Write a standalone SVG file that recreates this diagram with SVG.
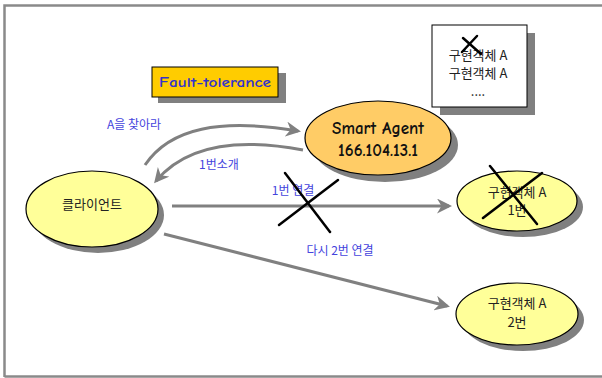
<svg xmlns="http://www.w3.org/2000/svg" width="602" height="378" viewBox="0 0 602 378">
<style>
.frame{stroke:#8a8a8a;stroke-width:2.5;fill:none}
.shadow{fill:#808080}
.node{fill:#FFFF99;stroke:#000;stroke-width:1.2}
.agent{fill:#FFCC66;stroke:#000;stroke-width:1.2}
.ktext{font-family:"Noto Sans CJK KR","DejaVu Sans",sans-serif;font-size:13px;fill:#222;text-anchor:middle}
.lbl{font-family:"Noto Sans CJK KR","DejaVu Sans",sans-serif;font-size:12px;fill:#4444DD;text-anchor:middle}
.agtext{font-family:"Comic Neue","DejaVu Sans",sans-serif;font-weight:bold;font-size:17px;fill:#111;text-anchor:middle}
.conn{stroke:#808080;stroke-width:3;fill:none;marker-end:url(#ah)}
.cross{stroke:#000;stroke-width:2.5;stroke-linecap:round}
</style>
<defs>
<marker id="ah" viewBox="0 0 10 10" refX="8" refY="5" markerWidth="5" markerHeight="5" orient="auto" markerUnits="strokeWidth">
<path d="M0,0 L10,5 L0,10 L3,5 Z" fill="#808080"/>
</marker>
</defs>
<rect width="602" height="378" fill="#fff"/>
<path class="frame" d="M4.5,377 V5.5 H602 M4.5,376.5 H602"/>

<g id="title">
<rect x="158" y="73" width="128" height="30" class="shadow"/>
<rect x="152" y="67" width="126" height="30" fill="#FFCC00" stroke="#000" stroke-width="1"/>
<text x="215" y="87" font-family="'Comic Neue','DejaVu Sans',sans-serif" font-weight="bold" font-size="14" fill="#3333CC" text-anchor="middle" textLength="112" lengthAdjust="spacingAndGlyphs">Fault-tolerance</text>
</g>

<g id="registry">
<rect x="440" y="33" width="95" height="82" class="shadow"/>
<rect x="432" y="25" width="95" height="82" fill="#fff" stroke="#000" stroke-width="1"/>
<text x="478" y="60" class="ktext" font-size="11">구현객체 A</text>
<text x="478" y="78" class="ktext" font-size="11">구현객체 A</text>
<text x="478" y="96" class="ktext" font-size="10" fill="#666">....</text>
<line class="cross" x1="463" y1="38" x2="481" y2="54"/>
<line class="cross" x1="477" y1="36" x2="462" y2="52"/>
</g>

<g id="connectors">
<path class="conn" d="M145,165 C170,128 220,118 298,131"/>
<path class="conn" d="M303,150 C250,140 190,140 156,181"/>
<line class="conn" x1="172" y1="206" x2="449" y2="206"/>
<line class="conn" x1="164" y1="234" x2="447" y2="306"/>
<text x="134" y="129" class="lbl">A을 찾아라</text>
<text x="219" y="169" class="lbl">1번소개</text>
<text x="293" y="195" class="lbl">1번 연결</text>
<text x="340" y="255" class="lbl">다시 2번 연결</text>
<line class="cross" x1="285" y1="173" x2="330" y2="232"/>
<line class="cross" x1="338" y1="180" x2="279" y2="225"/>
</g>

<g id="agent">
<ellipse cx="385" cy="145" rx="73" ry="37" class="shadow"/>
<ellipse cx="378" cy="138" rx="73" ry="37" class="agent"/>
<text x="378" y="134" class="agtext">Smart Agent</text>
<text x="378" y="156" class="agtext">166.104.13.1</text>
</g>

<g id="client">
<ellipse cx="98" cy="215" rx="66" ry="38" class="shadow"/>
<ellipse cx="92" cy="209" rx="66" ry="38" class="node"/>
<text x="92" y="209" class="ktext">클라이언트</text>
</g>

<g id="impl1">
<ellipse cx="523" cy="207" rx="60" ry="30" class="shadow"/>
<ellipse cx="517" cy="201" rx="60" ry="30" class="node"/>
<text x="517" y="197" class="ktext">구현객체 A</text>
<text x="517" y="215" class="ktext">1번</text>
<line class="cross" x1="490" y1="166" x2="537" y2="224"/>
<line class="cross" x1="542" y1="173" x2="483" y2="218"/>
</g>

<g id="impl2">
<ellipse cx="523" cy="320" rx="61" ry="31" class="shadow"/>
<ellipse cx="517" cy="314" rx="61" ry="31" class="node"/>
<text x="517" y="308" class="ktext">구현객체 A</text>
<text x="517" y="327" class="ktext">2번</text>
</g>
</svg>
